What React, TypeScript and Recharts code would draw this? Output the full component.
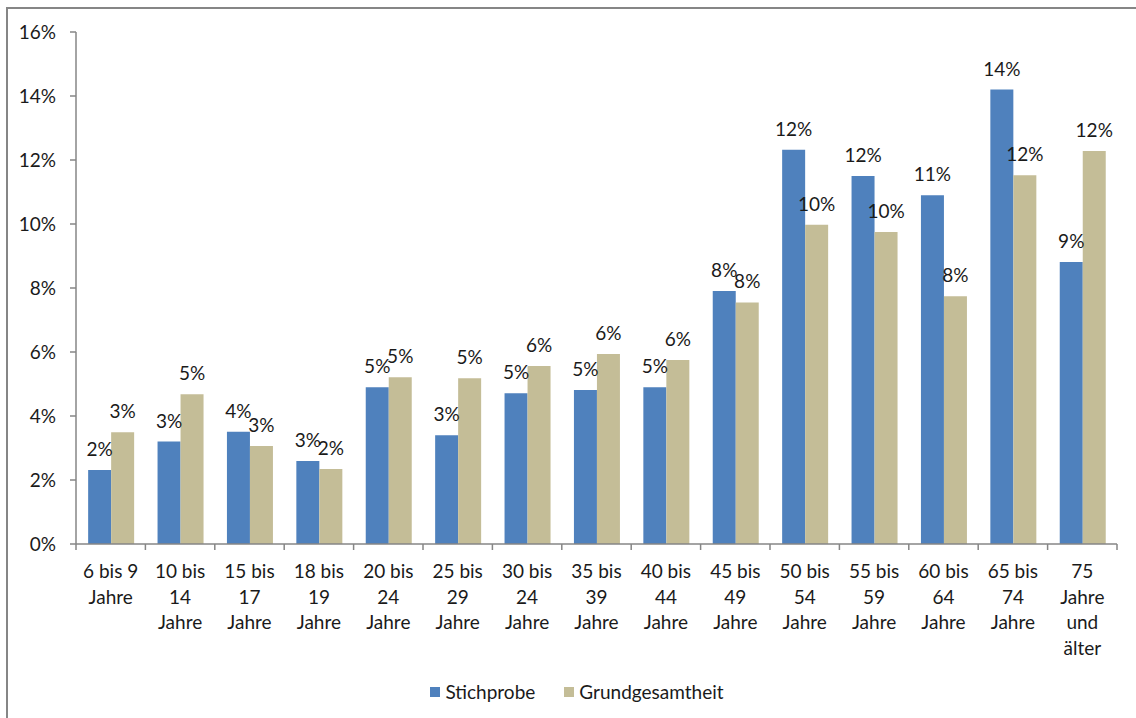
import React from "react";
import { BarChart, Bar, XAxis, YAxis, Legend, LabelList } from "recharts";

const categories = [
  "6 bis 9\nJahre",
  "10 bis\n14\nJahre",
  "15 bis\n17\nJahre",
  "18 bis\n19\nJahre",
  "20 bis\n24\nJahre",
  "25 bis\n29\nJahre",
  "30 bis\n24\nJahre",
  "35 bis\n39\nJahre",
  "40 bis\n44\nJahre",
  "45 bis\n49\nJahre",
  "50 bis\n54\nJahre",
  "55 bis\n59\nJahre",
  "60 bis\n64\nJahre",
  "65 bis\n74\nJahre",
  "75\nJahre\nund\nälter",
];

const stichprobe = [2.31, 3.2, 3.51, 2.59, 4.9, 3.4, 4.71, 4.81, 4.9, 7.91, 12.32, 11.5, 10.9, 14.2, 8.81];
const grundgesamtheit = [3.49, 4.68, 3.06, 2.34, 5.21, 5.18, 5.56, 5.94, 5.75, 7.55, 9.98, 9.75, 7.74, 11.52, 12.28];

const yTicks = [0, 2, 4, 6, 8, 10, 12, 14, 16];
const seriesNames = ["Stichprobe", "Grundgesamtheit"];
const colors = ["#4F81BD", "#C4BD97"];

const data = categories.map((c, i) => ({
  cat: c,
  s: stichprobe[i],
  g: grundgesamtheit[i],
}));

const CHART_W = 1136;
const CHART_H = 718;
const Y_W = 76;
const RIGHT = 19;
const BAND = (CHART_W - Y_W - RIGHT) / categories.length;

const FONT = "Lato, 'DejaVu Sans', sans-serif";
const FS = 19;
const AXIS = "#868686";
const TEXT = "#1a1a1a";

const XTick = (props: any) => {
  const { x, y, payload, index } = props;
  const lines = String(payload.value).split("\n");
  const left = x - BAND / 2;
  const right = x + BAND / 2;
  return (
    <g>
      <line x1={left} y1={y} x2={left} y2={y + 6} stroke={AXIS} strokeWidth={1.5} />
      {index === categories.length - 1 && (
        <line x1={right} y1={y} x2={right} y2={y + 6} stroke={AXIS} strokeWidth={1.5} />
      )}
      <text x={x} y={y} textAnchor="middle" fontFamily={FONT} fontSize={FS} fill={TEXT}>
        {lines.map((l, i) => (
          <tspan key={i} x={x} y={y + 34 + i * 25.5}>
            {l}
          </tspan>
        ))}
      </text>
    </g>
  );
};

const ValueLabel = (props: any) => {
  const { x, y, width, value } = props;
  return (
    <text
      x={Number(x) + Number(width) / 2}
      y={Number(y) - 14}
      textAnchor="middle"
      fontFamily={FONT}
      fontSize={FS}
      fill={TEXT}
    >
      {Math.round(Number(value))}%
    </text>
  );
};

const LegendContent = () => (
  <div
    style={{
      display: "flex",
      justifyContent: "center",
      alignItems: "center",
      fontFamily: FONT,
      fontSize: FS,
      color: TEXT,
      paddingLeft: 18,
    }}
  >
    {seriesNames.map((n, i) => (
      <div key={n} style={{ display: "flex", alignItems: "center", marginRight: i === 0 ? 29 : 0 }}>
        <span style={{ width: 10, height: 10, background: colors[i], display: "inline-block", marginRight: 5 }} />
        <span>{n}</span>
      </div>
    ))}
  </div>
);

export default function App() {
  return (
    <div
      style={{
        position: "fixed",
        left: 0,
        top: 0,
        width: CHART_W,
        height: CHART_H,
        overflow: "hidden",
        background: "#fff",
      }}
    >
      <div
        style={{
          position: "absolute",
          left: 6,
          top: 7,
          width: 1300,
          height: 900,
          borderTop: `2px solid ${AXIS}`,
          borderLeft: `2px solid ${AXIS}`,
        }}
      />
      <div style={{ position: "absolute", left: 0, top: 0 }}>
        <BarChart
          width={CHART_W}
          height={CHART_H}
          data={data}
          margin={{ top: 32, right: RIGHT, left: 0, bottom: 0 }}
          barCategoryGap="17.5%"
          barGap={0}
        >
          <XAxis
            dataKey="cat"
            interval={0}
            height={174}
            tickSize={0}
            tickMargin={0}
            tickLine={false}
            axisLine={{ stroke: AXIS, strokeWidth: 1.5 }}
            tick={<XTick />}
          />
          <YAxis
            width={Y_W}
            domain={[0, 16]}
            ticks={yTicks}
            interval={0}
            tickFormatter={(v: number) => `${v}%`}
            tickSize={6}
            tickMargin={14}
            axisLine={{ stroke: AXIS, strokeWidth: 1.5 }}
            tickLine={{ stroke: AXIS, strokeWidth: 1.5 }}
            tick={{ fontFamily: FONT, fontSize: FS, fill: TEXT }}
          />
          <Legend
            verticalAlign="middle"
            align="center"
            layout="horizontal"
            content={<LegendContent />}
            wrapperStyle={{ top: 680, left: 0, width: CHART_W }}
          />
          <Bar dataKey="s" name={seriesNames[0]} fill={colors[0]} isAnimationActive={false}>
            <LabelList dataKey="s" content={<ValueLabel />} />
          </Bar>
          <Bar dataKey="g" name={seriesNames[1]} fill={colors[1]} isAnimationActive={false}>
            <LabelList dataKey="g" content={<ValueLabel />} />
          </Bar>
        </BarChart>
      </div>
    </div>
  );
}
